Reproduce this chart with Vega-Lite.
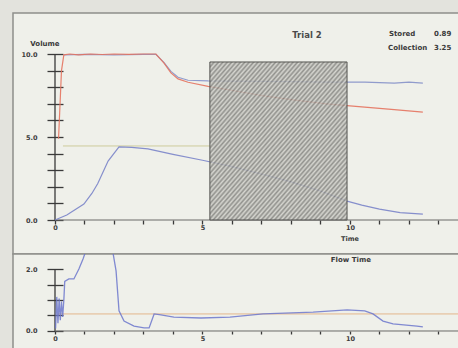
{
  "$schema": "https://vega.github.io/schema/vega-lite/v6.json",
  "padding": {"left": 12, "top": 12, "right": 0, "bottom": 0},
  "spacing": 0,
  "bounds": "flush",
  "background": "#e3e3dd",
  "config": {
    "view": {"fill": "#eff0ea", "stroke": "#8f8f8b", "strokeWidth": 1.5},
    "axis": {"labelFont": "DejaVu Sans", "labelFontWeight": "bold", "labelFontSize": 6.5, "labelColor": "#3c3c3c", "tickColor": "#3a3a3a", "tickWidth": 1.3, "grid": false, "domain": false, "labelOverlap": false, "labelFlush": false, "zindex": 1, "tickCount": 30},
    "text": {"font": "DejaVu Sans", "fontWeight": "bold", "fontSize": 7, "color": "#3a3a3a"}
  },
  "datasets": {
    "vol": [
      {"t": 0.3, "v": 9.95, "s": "B"}, {"t": 1.0, "v": 9.98, "s": "B"}, {"t": 2.0, "v": 9.95, "s": "B"}, {"t": 3.0, "v": 9.98, "s": "B"}, {"t": 3.42, "v": 9.98, "s": "B"}, {"t": 3.69, "v": 9.5, "s": "B"}, {"t": 3.93, "v": 8.95, "s": "B"}, {"t": 4.17, "v": 8.6, "s": "B"}, {"t": 4.51, "v": 8.42, "s": "B"}, {"t": 5.19, "v": 8.38, "s": "B"}, {"t": 5.93, "v": 8.37, "s": "B"}, {"t": 7.0, "v": 8.35, "s": "B"}, {"t": 8.0, "v": 8.33, "s": "B"}, {"t": 9.2, "v": 8.31, "s": "B"}, {"t": 10.5, "v": 8.3, "s": "B"}, {"t": 11.5, "v": 8.24, "s": "B"}, {"t": 12.0, "v": 8.3, "s": "B"}, {"t": 12.47, "v": 8.25, "s": "B"},
      {"t": 0.12, "v": 4.9, "s": "A"}, {"t": 0.22, "v": 9.0, "s": "A"}, {"t": 0.3, "v": 9.95, "s": "A"}, {"t": 0.5, "v": 10.0, "s": "A"}, {"t": 0.8, "v": 9.95, "s": "A"}, {"t": 1.2, "v": 10.0, "s": "A"}, {"t": 1.6, "v": 9.97, "s": "A"}, {"t": 2.0, "v": 10.0, "s": "A"}, {"t": 2.5, "v": 9.98, "s": "A"}, {"t": 3.0, "v": 10.0, "s": "A"}, {"t": 3.42, "v": 10.0, "s": "A"}, {"t": 3.69, "v": 9.46, "s": "A"}, {"t": 3.93, "v": 8.86, "s": "A"}, {"t": 4.17, "v": 8.5, "s": "A"}, {"t": 4.51, "v": 8.3, "s": "A"}, {"t": 5.19, "v": 8.05, "s": "A"}, {"t": 5.93, "v": 7.83, "s": "A"}, {"t": 7.0, "v": 7.5, "s": "A"}, {"t": 8.0, "v": 7.25, "s": "A"}, {"t": 9.2, "v": 6.99, "s": "A"}, {"t": 10.5, "v": 6.8, "s": "A"}, {"t": 11.5, "v": 6.65, "s": "A"}, {"t": 12.47, "v": 6.5, "s": "A"},
      {"t": 0.0, "v": 0.0, "s": "C"}, {"t": 0.4, "v": 0.3, "s": "C"}, {"t": 0.98, "v": 0.96, "s": "C"}, {"t": 1.25, "v": 1.6, "s": "C"}, {"t": 1.45, "v": 2.2, "s": "C"}, {"t": 1.8, "v": 3.55, "s": "C"}, {"t": 2.17, "v": 4.4, "s": "C"}, {"t": 2.6, "v": 4.38, "s": "C"}, {"t": 3.15, "v": 4.28, "s": "C"}, {"t": 4.0, "v": 3.95, "s": "C"}, {"t": 5.0, "v": 3.6, "s": "C"}, {"t": 5.93, "v": 3.25, "s": "C"}, {"t": 7.0, "v": 2.77, "s": "C"}, {"t": 8.0, "v": 2.3, "s": "C"}, {"t": 9.0, "v": 1.75, "s": "C"}, {"t": 9.9, "v": 1.14, "s": "C"}, {"t": 10.4, "v": 0.9, "s": "C"}, {"t": 11.0, "v": 0.66, "s": "C"}, {"t": 11.7, "v": 0.45, "s": "C"}, {"t": 12.47, "v": 0.36, "s": "C"}
    ],
    "flow": [
      {"t": 0.02, "f": 0.08}, {"t": 0.06, "f": 1.1}, {"t": 0.1, "f": 0.25}, {"t": 0.14, "f": 1.05}, {"t": 0.18, "f": 0.35}, {"t": 0.22, "f": 0.95}, {"t": 0.26, "f": 0.45}, {"t": 0.3, "f": 1.0}, {"t": 0.33, "f": 1.6}, {"t": 0.47, "f": 1.68}, {"t": 0.64, "f": 1.68}, {"t": 0.81, "f": 2.0}, {"t": 0.95, "f": 2.32}, {"t": 1.05, "f": 2.6}, {"t": 1.2, "f": 2.9}, {"t": 1.8, "f": 2.9}, {"t": 1.97, "f": 2.5}, {"t": 2.07, "f": 1.94}, {"t": 2.17, "f": 0.65}, {"t": 2.34, "f": 0.32}, {"t": 2.68, "f": 0.16}, {"t": 3.02, "f": 0.1}, {"t": 3.19, "f": 0.1}, {"t": 3.36, "f": 0.55}, {"t": 3.59, "f": 0.52}, {"t": 4.03, "f": 0.45}, {"t": 4.95, "f": 0.42}, {"t": 5.93, "f": 0.45}, {"t": 7.05, "f": 0.55}, {"t": 8.75, "f": 0.61}, {"t": 9.9, "f": 0.68}, {"t": 10.5, "f": 0.65}, {"t": 10.78, "f": 0.55}, {"t": 11.12, "f": 0.32}, {"t": 11.46, "f": 0.23}, {"t": 12.27, "f": 0.16}, {"t": 12.47, "f": 0.13}
    ]
  },
  "vconcat": [
    {
      "width": 447,
      "height": 241,
      "layer": [
        {
          "data": {"values": [{}]},
          "mark": {"type": "rule", "color": "#3a3a3a", "strokeWidth": 1.3},
          "encoding": {
            "x": {"datum": 0, "type": "quantitative", "scale": {"domain": [-1.4237, 13.729], "nice": false, "zero": false},
              "axis": {"title": null, "values": [0, 1, 2, 3, 4, 5, 6, 7, 8, 9, 10, 11, 12, 13], "labelExpr": "datum.value % 5 === 0 ? '' + datum.value : ''", "offset": -34, "tickSize": 4, "labelPadding": 0}},
            "y": {"datum": 0, "type": "quantitative", "scale": {"domain": [-2.048, 12.47], "nice": false, "zero": false},
              "axis": {"title": null, "values": [0, 1, 2, 3, 4, 5, 6, 7, 8, 9, 10], "labelExpr": "datum.value % 5 === 0 ? format(datum.value, '.1f') : ''", "offset": -50, "tickSize": 16, "labelPadding": 10}},
            "y2": {"datum": 10}
          }
        },
        {
          "data": {"values": [{}]},
          "mark": {"type": "rule", "color": "#6a6a68", "strokeWidth": 1},
          "encoding": {
            "x": {"datum": 0, "type": "quantitative"},
            "x2": {"datum": 13.73},
            "y": {"datum": 0, "type": "quantitative"}
          }
        },
        {
          "data": {"values": [{}]},
          "mark": {"type": "rule", "color": "#cdcb9c", "strokeWidth": 1},
          "encoding": {
            "x": {"datum": 0.27, "type": "quantitative"},
            "x2": {"datum": 5.3},
            "y": {"datum": 4.46, "type": "quantitative"}
          }
        },
        {
          "data": {"name": "vol"},
          "mark": {"type": "line", "strokeWidth": 1.2, "opacity": 0.9},
          "encoding": {
            "x": {"field": "t", "type": "quantitative"},
            "y": {"field": "v", "type": "quantitative"},
            "color": {"field": "s", "type": "nominal", "scale": {"domain": ["B", "A", "C"], "range": ["#8591c9", "#e4735f", "#7a84c9"]}, "legend": null}
          }
        },
        {
          "data": {"values": [{}]},
          "mark": {"type": "rect", "stroke": "#555552", "strokeWidth": 1, "fillOpacity": 0.85, "fill": {"gradient": "linear", "x1": 0, "y1": 0, "x2": 1, "y2": 1, "stops": [
            {"offset": 0, "color": "#80807c"}, {"offset": 0.008, "color": "#d2d2cc"}, {"offset": 0.016, "color": "#80807c"}, {"offset": 0.024, "color": "#d2d2cc"}, {"offset": 0.032, "color": "#80807c"}, {"offset": 0.04, "color": "#d2d2cc"}, {"offset": 0.048, "color": "#80807c"}, {"offset": 0.056, "color": "#d2d2cc"}, {"offset": 0.064, "color": "#80807c"}, {"offset": 0.072, "color": "#d2d2cc"}, {"offset": 0.08, "color": "#80807c"}, {"offset": 0.088, "color": "#d2d2cc"}, {"offset": 0.096, "color": "#80807c"}, {"offset": 0.104, "color": "#d2d2cc"}, {"offset": 0.112, "color": "#80807c"}, {"offset": 0.12, "color": "#d2d2cc"}, {"offset": 0.128, "color": "#80807c"}, {"offset": 0.136, "color": "#d2d2cc"}, {"offset": 0.144, "color": "#80807c"}, {"offset": 0.152, "color": "#d2d2cc"}, {"offset": 0.16, "color": "#80807c"}, {"offset": 0.168, "color": "#d2d2cc"}, {"offset": 0.176, "color": "#80807c"}, {"offset": 0.184, "color": "#d2d2cc"}, {"offset": 0.192, "color": "#80807c"}, {"offset": 0.2, "color": "#d2d2cc"}, {"offset": 0.208, "color": "#80807c"}, {"offset": 0.216, "color": "#d2d2cc"}, {"offset": 0.224, "color": "#80807c"}, {"offset": 0.232, "color": "#d2d2cc"}, {"offset": 0.24, "color": "#80807c"}, {"offset": 0.248, "color": "#d2d2cc"}, {"offset": 0.256, "color": "#80807c"}, {"offset": 0.264, "color": "#d2d2cc"}, {"offset": 0.272, "color": "#80807c"}, {"offset": 0.28, "color": "#d2d2cc"}, {"offset": 0.288, "color": "#80807c"}, {"offset": 0.296, "color": "#d2d2cc"}, {"offset": 0.304, "color": "#80807c"}, {"offset": 0.312, "color": "#d2d2cc"}, {"offset": 0.32, "color": "#80807c"}, {"offset": 0.328, "color": "#d2d2cc"}, {"offset": 0.336, "color": "#80807c"}, {"offset": 0.344, "color": "#d2d2cc"}, {"offset": 0.352, "color": "#80807c"}, {"offset": 0.36, "color": "#d2d2cc"}, {"offset": 0.368, "color": "#80807c"}, {"offset": 0.376, "color": "#d2d2cc"}, {"offset": 0.384, "color": "#80807c"}, {"offset": 0.392, "color": "#d2d2cc"}, {"offset": 0.4, "color": "#80807c"}, {"offset": 0.408, "color": "#d2d2cc"}, {"offset": 0.416, "color": "#80807c"}, {"offset": 0.424, "color": "#d2d2cc"}, {"offset": 0.432, "color": "#80807c"}, {"offset": 0.44, "color": "#d2d2cc"}, {"offset": 0.448, "color": "#80807c"}, {"offset": 0.456, "color": "#d2d2cc"}, {"offset": 0.464, "color": "#80807c"}, {"offset": 0.472, "color": "#d2d2cc"}, {"offset": 0.48, "color": "#80807c"}, {"offset": 0.488, "color": "#d2d2cc"}, {"offset": 0.496, "color": "#80807c"}, {"offset": 0.504, "color": "#d2d2cc"}, {"offset": 0.512, "color": "#80807c"}, {"offset": 0.52, "color": "#d2d2cc"}, {"offset": 0.528, "color": "#80807c"}, {"offset": 0.536, "color": "#d2d2cc"}, {"offset": 0.544, "color": "#80807c"}, {"offset": 0.552, "color": "#d2d2cc"}, {"offset": 0.56, "color": "#80807c"}, {"offset": 0.568, "color": "#d2d2cc"}, {"offset": 0.576, "color": "#80807c"}, {"offset": 0.584, "color": "#d2d2cc"}, {"offset": 0.592, "color": "#80807c"}, {"offset": 0.6, "color": "#d2d2cc"}, {"offset": 0.608, "color": "#80807c"}, {"offset": 0.616, "color": "#d2d2cc"}, {"offset": 0.624, "color": "#80807c"}, {"offset": 0.632, "color": "#d2d2cc"}, {"offset": 0.64, "color": "#80807c"}, {"offset": 0.648, "color": "#d2d2cc"}, {"offset": 0.656, "color": "#80807c"}, {"offset": 0.664, "color": "#d2d2cc"}, {"offset": 0.672, "color": "#80807c"}, {"offset": 0.68, "color": "#d2d2cc"}, {"offset": 0.688, "color": "#80807c"}, {"offset": 0.696, "color": "#d2d2cc"}, {"offset": 0.704, "color": "#80807c"}, {"offset": 0.712, "color": "#d2d2cc"}, {"offset": 0.72, "color": "#80807c"}, {"offset": 0.728, "color": "#d2d2cc"}, {"offset": 0.736, "color": "#80807c"}, {"offset": 0.744, "color": "#d2d2cc"}, {"offset": 0.752, "color": "#80807c"}, {"offset": 0.76, "color": "#d2d2cc"}, {"offset": 0.768, "color": "#80807c"}, {"offset": 0.776, "color": "#d2d2cc"}, {"offset": 0.784, "color": "#80807c"}, {"offset": 0.792, "color": "#d2d2cc"}, {"offset": 0.8, "color": "#80807c"}, {"offset": 0.808, "color": "#d2d2cc"}, {"offset": 0.816, "color": "#80807c"}, {"offset": 0.824, "color": "#d2d2cc"}, {"offset": 0.832, "color": "#80807c"}, {"offset": 0.84, "color": "#d2d2cc"}, {"offset": 0.848, "color": "#80807c"}, {"offset": 0.856, "color": "#d2d2cc"}, {"offset": 0.864, "color": "#80807c"}, {"offset": 0.872, "color": "#d2d2cc"}, {"offset": 0.88, "color": "#80807c"}, {"offset": 0.888, "color": "#d2d2cc"}, {"offset": 0.896, "color": "#80807c"}, {"offset": 0.904, "color": "#d2d2cc"}, {"offset": 0.912, "color": "#80807c"}, {"offset": 0.92, "color": "#d2d2cc"}, {"offset": 0.928, "color": "#80807c"}, {"offset": 0.936, "color": "#d2d2cc"}, {"offset": 0.944, "color": "#80807c"}, {"offset": 0.952, "color": "#d2d2cc"}, {"offset": 0.96, "color": "#80807c"}, {"offset": 0.968, "color": "#d2d2cc"}, {"offset": 0.976, "color": "#80807c"}, {"offset": 0.984, "color": "#d2d2cc"}, {"offset": 0.992, "color": "#80807c"}, {"offset": 1, "color": "#d2d2cc"}
          ]}},
          "encoding": {
            "x": {"datum": 5.25, "type": "quantitative"},
            "x2": {"datum": 9.9},
            "y": {"datum": 0, "type": "quantitative"},
            "y2": {"datum": 9.52}
          }
        },
        {
          "data": {"values": [{}]},
          "mark": {"type": "text", "text": "Volume", "align": "center", "baseline": "middle"},
          "encoding": {"x": {"datum": -0.34, "type": "quantitative"}, "y": {"datum": 10.6, "type": "quantitative"}}
        },
        {
          "data": {"values": [{}]},
          "mark": {"type": "text", "text": "Time", "align": "center", "baseline": "middle", "fontSize": 6.5},
          "encoding": {"x": {"datum": 10, "type": "quantitative"}, "y": {"datum": -1.15, "type": "quantitative"}}
        },
        {
          "data": {"values": [{}]},
          "mark": {"type": "text", "text": "Trial 2", "align": "center", "baseline": "middle", "fontSize": 8.5, "color": "#4a4a4a"},
          "encoding": {"x": {"datum": 8.54, "type": "quantitative"}, "y": {"datum": 11.14, "type": "quantitative"}}
        },
        {
          "data": {"values": [{}]},
          "mark": {"type": "text", "text": "Stored", "align": "left", "baseline": "middle"},
          "encoding": {"x": {"datum": 11.32, "type": "quantitative"}, "y": {"datum": 11.2, "type": "quantitative"}}
        },
        {
          "data": {"values": [{}]},
          "mark": {"type": "text", "text": "0.89", "align": "left", "baseline": "middle"},
          "encoding": {"x": {"datum": 12.85, "type": "quantitative"}, "y": {"datum": 11.2, "type": "quantitative"}}
        },
        {
          "data": {"values": [{}]},
          "mark": {"type": "text", "text": "Collection", "align": "left", "baseline": "middle"},
          "encoding": {"x": {"datum": 11.29, "type": "quantitative"}, "y": {"datum": 10.36, "type": "quantitative"}}
        },
        {
          "data": {"values": [{}]},
          "mark": {"type": "text", "text": "3.25", "align": "left", "baseline": "middle"},
          "encoding": {"x": {"datum": 12.85, "type": "quantitative"}, "y": {"datum": 10.36, "type": "quantitative"}}
        }
      ]
    },
    {
      "width": 447,
      "height": 96,
      "layer": [
        {
          "data": {"values": [{}]},
          "mark": {"type": "rule", "color": "#3a3a3a", "strokeWidth": 1.3},
          "encoding": {
            "x": {"datum": 0, "type": "quantitative", "scale": {"domain": [-1.4237, 13.729], "nice": false, "zero": false},
              "axis": {"title": null, "values": [0, 1, 2, 3, 4, 5, 6, 7, 8, 9, 10, 11, 12, 13], "labelExpr": "datum.value % 5 === 0 ? '' + datum.value : ''", "offset": -19, "tickSize": 3, "labelPadding": 1}},
            "y": {"datum": 0, "type": "quantitative", "scale": {"domain": [-0.613, 2.484], "nice": false, "zero": false},
              "axis": {"title": null, "values": [0, 0.5, 1, 1.5, 2], "labelExpr": "datum.value === 0 || datum.value === 2 ? format(datum.value, '.1f') : ''", "offset": -50, "tickSize": 16, "labelPadding": 10}},
            "y2": {"datum": 2}
          }
        },
        {
          "data": {"values": [{}]},
          "mark": {"type": "rule", "color": "#6a6a68", "strokeWidth": 1},
          "encoding": {
            "x": {"datum": 0, "type": "quantitative"},
            "x2": {"datum": 13.73},
            "y": {"datum": 0, "type": "quantitative"}
          }
        },
        {
          "data": {"values": [{}]},
          "mark": {"type": "rule", "color": "#e3b68c", "strokeWidth": 1},
          "encoding": {
            "x": {"datum": 0.1, "type": "quantitative"},
            "x2": {"datum": 13.73},
            "y": {"datum": 0.55, "type": "quantitative"}
          }
        },
        {
          "data": {"name": "flow"},
          "mark": {"type": "line", "strokeWidth": 1.3, "color": "#6c77cc", "clip": true, "opacity": 0.85},
          "encoding": {
            "x": {"field": "t", "type": "quantitative"},
            "y": {"field": "f", "type": "quantitative"}
          }
        },
        {
          "data": {"values": [{}]},
          "mark": {"type": "text", "text": "Flow Time", "align": "center", "baseline": "middle"},
          "encoding": {"x": {"datum": 10.03, "type": "quantitative"}, "y": {"datum": 2.29, "type": "quantitative"}}
        }
      ]
    }
  ]
}
